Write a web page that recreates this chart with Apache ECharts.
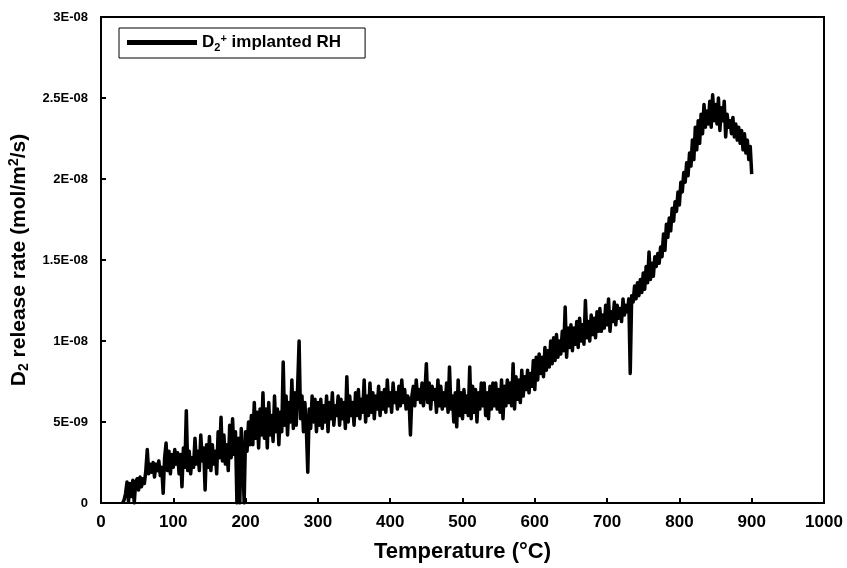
<!DOCTYPE html>
<html>
<head>
<meta charset="utf-8">
<script src="https://cdn.jsdelivr.net/npm/echarts@6/dist/echarts.min.js"></script>
<style>
html,body{margin:0;padding:0;background:#fff;}
#chart{width:847px;height:568px;}
</style>
</head>
<body>
<div id="chart"></div>
<script>
// Temperature (°C)
const temps = [
 30,32,34,36,38,40,42,44,46,48,
 50,52,54,56,58,60,62,64,66,68,
 70,72,74,76,78,80,82,84,86,88,
 90,92,94,96,98,100,102,104,106,108,
 110,112,114,116,118,120,122,124,126,128,
 130,132,134,136,138,140,142,144,146,148,
 150,152,154,156,158,160,162,164,166,168,
 170,172,174,176,178,180,182,184,186,188,
 190,192,194,196,198,200,202,204,206,208,
 210,212,214,216,218,220,222,224,226,228,
 230,232,234,236,238,240,242,244,246,248,
 250,252,254,256,258,260,262,264,266,268,
 270,272,274,276,278,280,282,284,286,288,
 290,292,294,296,298,300,302,304,306,308,
 310,312,314,316,318,320,322,324,326,328,
 330,332,334,336,338,340,342,344,346,348,
 350,352,354,356,358,360,362,364,366,368,
 370,372,374,376,378,380,382,384,386,388,
 390,392,394,396,398,400,402,404,406,408,
 410,412,414,416,418,420,422,424,426,428,
 430,432,434,436,438,440,442,444,446,448,
 450,452,454,456,458,460,462,464,466,468,
 470,472,474,476,478,480,482,484,486,488,
 490,492,494,496,498,500,502,504,506,508,
 510,512,514,516,518,520,522,524,526,528,
 530,532,534,536,538,540,542,544,546,548,
 550,552,554,556,558,560,562,564,566,568,
 570,572,574,576,578,580,582,584,586,588,
 590,592,594,596,598,600,602,604,606,608,
 610,612,614,616,618,620,622,624,626,628,
 630,632,634,636,638,640,642,644,646,648,
 650,652,654,656,658,660,662,664,666,668,
 670,672,674,676,678,680,682,684,686,688,
 690,692,694,696,698,700,702,704,706,708,
 710,712,714,716,718,720,722,724,726,728,
 730,732,734,736,738,740,742,744,746,748,
 750,752,754,756,758,760,762,764,766,768,
 770,772,774,776,778,780,782,784,786,788,
 790,792,794,796,798,800,802,804,806,808,
 810,812,814,816,818,820,822,824,826,828,
 830,832,834,836,838,840,842,844,846,848,
 850,852,854,856,858,860,862,864,866,868,
 870,872,874,876,878,880,882,884,886,888,
 890,892,894,896,898,900
];
// D2 release rate, in units of 1E-09 mol/m2/s
const releaseRate = [
 0,0.2,0.6,1.3,0.1,1.2,0.4,1.4,0,1.3,
 1.5,0.8,1.6,1.0,1.5,1.2,2.0,3.3,1.8,2.4,
 1.9,2.5,1.6,2.4,2.0,2.6,1.7,2.2,0.6,2.8,
 3.7,2.0,3.2,1.8,3.0,2.2,3.3,2.4,3.1,1.8,
 3.0,1.0,3.4,2.2,5.7,2.0,3.2,1.8,2.8,2.2,
 4.0,2.4,3.2,2.0,4.2,2.6,3.4,0.8,3.6,2.2,
 4.1,2.0,3.6,2.4,3.2,1.8,4.4,2.8,5.3,2.6,
 4.2,2.4,3.6,2.0,4.8,2.8,5.2,3.0,4.4,0,
 4.0,0,4.6,2.8,0,4.4,3.2,5.0,3.6,5.4,
 3.6,6.2,4.0,5.6,3.4,5.8,4.2,6.8,4.0,5.8,
 3.4,6.2,4.2,5.4,3.8,6.6,4.4,5.8,3.6,5.6,
 4.4,8.7,4.8,6.6,4.2,6.2,5.0,7.6,4.6,6.8,
 4.8,7.2,10.0,5.2,6.6,4.4,6.2,4.6,1.9,5.8,
 4.6,6.6,5.0,6.4,4.4,6.2,4.8,6.4,4.6,6.0,
 5.0,6.6,4.4,6.2,5.2,6.8,4.8,6.0,5.4,6.6,
 4.8,6.4,5.2,6.2,4.6,7.8,5.0,6.6,5.4,6.2,
 4.8,6.8,5.4,7.0,5.2,6.4,5.6,7.6,5.0,6.6,
 5.4,7.4,5.6,6.8,5.2,6.6,5.8,7.2,5.4,6.8,
 5.8,7.0,5.6,7.6,6.0,6.8,5.6,7.4,6.2,6.8,
 5.8,7.2,6.0,7.6,6.2,7.0,5.8,6.6,6.4,4.2,
 6.6,7.2,6.0,7.6,6.4,7.0,6.2,7.4,6.0,6.8,
 8.6,6.2,7.4,5.8,7.2,6.4,7.0,5.6,7.6,6.0,
 7.2,5.8,6.8,6.0,7.4,5.6,8.4,5.8,6.6,5.0,
 6.8,4.7,7.6,5.4,6.8,5.2,7.0,5.6,6.6,5.4,
 8.4,5.2,7.2,5.6,7.0,5.0,6.8,5.8,7.4,6.0,
 7.4,5.4,6.8,5.2,7.2,5.8,7.4,6.0,7.4,5.8,
 7.0,5.6,7.6,5.2,7.2,6.0,7.6,6.2,7.4,6.0,
 8.6,5.8,7.8,6.4,7.6,6.2,8.2,6.6,7.8,7.0,
 8.2,6.8,8.0,7.2,8.8,7.0,9.0,7.6,9.2,8.0,
 9.0,7.8,9.6,8.2,9.4,8.4,10.0,8.6,10.2,8.8,
 10.4,9.0,10.0,9.2,10.6,9.4,12.1,9.0,10.8,9.6,
 11.0,9.4,10.8,9.8,11.2,9.6,11.4,10.0,11.0,9.8,
 12.5,10.2,11.2,10.0,11.6,10.4,11.4,10.2,11.8,10.6,
 12.0,10.6,11.6,10.8,12.2,11.0,12.6,10.6,11.8,11.2,
 12.4,11.0,12.2,11.4,12.0,11.2,12.6,11.6,12.2,11.8,
 12.6,8.0,12.8,12.4,13.4,12.6,13.6,12.8,13.8,13.0,
 14.2,13.2,14.6,13.6,15.5,13.8,14.8,14.0,15.2,14.6,
 15.4,14.8,15.8,15.2,16.6,15.6,17.2,16.4,17.6,16.8,
 18.2,17.4,18.6,18.0,19.2,18.4,19.8,19.2,20.4,19.8,
 21.0,20.2,21.6,20.8,22.4,21.2,23.2,21.8,23.6,22.2,
 24.0,22.8,24.6,23.2,24.2,23.4,24.8,23.2,25.2,23.6,
 24.6,23.4,25.0,23.0,24.4,23.6,24.8,22.6,24.0,23.2,
 23.6,22.8,23.8,22.6,23.4,22.4,23.2,22.2,23.0,21.8,
 22.8,21.6,22.4,21.2,22.0,20.3
];
const yTickLabels = ['0','5E-09','1E-08','1.5E-08','2E-08','2.5E-08','3E-08'];
const xTickLabels = ['0','100','200','300','400','500','600','700','800','900','1000'];
const seriesName = 'D2+ implanted RH';

const chart = echarts.init(document.getElementById('chart'), null, {renderer:'canvas'});
const font = '"Liberation Sans", Arial, sans-serif';
const seriesData = temps.map((t, i) => [t, releaseRate[i]]);

chart.setOption({
  animation: false,
  backgroundColor: '#fff',
  grid: {
    left: 101, right: 23, top: 17, bottom: 65,
    containLabel: false,
    outerBoundsMode: 'none',
    show: true, borderColor: '#000', borderWidth: 2, backgroundColor: 'transparent'
  },
  legend: {
    left: 119, top: 28,
    orient: 'horizontal',
    backgroundColor: '#fff',
    borderColor: '#000', borderWidth: 1,
    padding: [5, 24, 5, 8],
    itemWidth: 70, itemHeight: 14, itemGap: 10,
    itemStyle: {color: '#000'},
    data: [{name: seriesName, icon: 'path://M0,4.5 L70,4.5 L70,9.5 L0,9.5 Z'}],
    formatter: function () { return '{b|D}{sub|2}{sup|+}{b| implanted RH}'; },
    textStyle: {
      fontFamily: font, fontWeight: 'bold', fontSize: 17, color: '#000',
      rich: {
        b: {fontFamily: font, fontWeight: 'bold', fontSize: 17, color: '#000'},
        sub: {fontFamily: font, fontWeight: 'bold', fontSize: 11, color: '#000', padding: [10, 0, 0, 0]},
        sup: {fontFamily: font, fontWeight: 'bold', fontSize: 11, color: '#000', padding: [0, 0, 8, 0]}
      }
    }
  },
  xAxis: {
    type: 'value', min: 0, max: 1000, interval: 100,
    name: 'Temperature (°C)', nameLocation: 'middle', nameGap: 38,
    nameTextStyle: {fontFamily: font, fontWeight: 'bold', fontSize: 22, color: '#000'},
    axisLine: {show: true, lineStyle: {color: '#000', width: 2}},
    axisTick: {show: true, inside: true, length: 5, lineStyle: {color: '#000', width: 2}},
    axisLabel: {
      fontFamily: font, fontWeight: 'bold', fontSize: 17, color: '#000', margin: 11,
      formatter: function (v) { return xTickLabels[Math.round(v / 100)]; }
    },
    splitLine: {show: false}
  },
  yAxis: {
    type: 'value', min: 0, max: 30, interval: 5,
    name: '{b|D}{sub|2}{b| release rate (mol/m}{sup|2}{b|/s)}',
    nameLocation: 'middle', nameGap: 66, nameRotate: 90,
    nameTextStyle: {
      fontFamily: font, fontWeight: 'bold', fontSize: 21, color: '#000',
      rich: {
        b: {fontFamily: font, fontWeight: 'bold', fontSize: 21, color: '#000'},
        sub: {fontFamily: font, fontWeight: 'bold', fontSize: 14, color: '#000', padding: [11, 0, 0, 0]},
        sup: {fontFamily: font, fontWeight: 'bold', fontSize: 14, color: '#000', padding: [0, 0, 9, 0]}
      }
    },
    axisLine: {show: true, lineStyle: {color: '#000', width: 2}},
    axisTick: {show: true, inside: true, length: 5, lineStyle: {color: '#000', width: 2}},
    axisLabel: {
      fontFamily: font, fontWeight: 'bold', fontSize: 13, color: '#000', margin: 13,
      formatter: function (v) { return yTickLabels[Math.round(v / 5)]; }
    },
    splitLine: {show: false}
  },
  series: [{
    name: seriesName,
    type: 'line',
    data: seriesData,
    showSymbol: false,
    symbol: 'none',
    lineStyle: {color: '#000', width: 3.5, join: 'round'},
    itemStyle: {color: '#000'}
  }]
});
</script>
</body>
</html>
